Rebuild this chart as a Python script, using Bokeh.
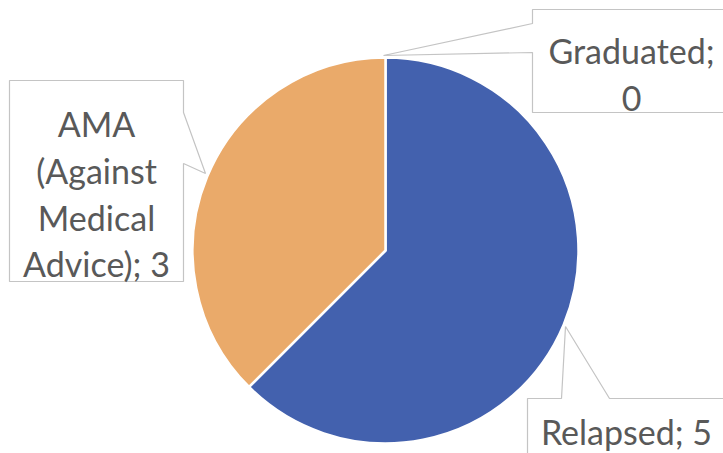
import numpy as np
from bokeh.plotting import figure
from bokeh.models import Range1d, ColumnDataSource
from bokeh.core.properties import value
from bokeh.embed import file_html
from bokeh.resources import INLINE

# data
categories = ["Relapsed", "AMA (Against Medical Advice)", "Graduated"]
counts = [5, 3, 0]
colors = ["#4361AE", "#EAAA6A", "#9E9E9E"]

W, H = 723, 453
p = figure(width=W, height=H, output_backend="svg", toolbar_location=None,
           x_range=Range1d(0, W), y_range=Range1d(0, H),
           min_border=0)
p.axis.visible = False
p.grid.visible = False
p.outline_line_color = None
p.background_fill_color = "white"
p.border_fill_color = "white"

def Y(img_y):
    return 453 - img_y

cx, cy, r = 385, Y(250), 193
total = sum(counts)
cum = np.cumsum([0] + counts)
d = dict(start=[], end=[], color=[], cat=[], n=[])
for i, c in enumerate(counts):
    if c <= 0:
        continue
    a_end = 90 - cum[i] * 360.0 / total
    a_start = 90 - cum[i + 1] * 360.0 / total
    d["start"].append(np.radians(a_start))
    d["end"].append(np.radians(a_end))
    d["color"].append(colors[i])
    d["cat"].append(categories[i])
    d["n"].append(c)

src = ColumnDataSource(d)
p.wedge(x=cx, y=cy, radius=r, start_angle="start", end_angle="end",
        fill_color="color", line_color="white", line_width=2.5, source=src)

border = "#C4C4C4"
txt_color = "#595959"
font = value("Lato")
fs = "34px"

# AMA callout
ama_x = [9, 183, 183, 205, 183, 183, 9, 9]
ama_y = [80, 80, 112, 173, 163, 281, 281, 80]
p.patch(ama_x, [Y(v) for v in ama_y], fill_color="white", line_color=border, line_width=1.2)
ama_lines = ["AMA", "(Against", "Medical", "Advice); %d" % counts[1]]
p.text(x=[96] * 4, y=[Y(v) for v in [123, 170, 217, 263]], text=ama_lines,
       text_align="center", text_baseline="alphabetic", text_font=font,
       text_font_size=fs, text_color=txt_color)

# Graduated callout
g_x = [740, 532, 532, 383, 532, 532, 740]
g_y = [9, 9, 23, 55, 52, 112, 112]
p.patch(g_x, [Y(v) for v in g_y], fill_color="white", line_color=border, line_width=1.2)
p.text(x=[631, 631], y=[Y(50), Y(98)], text=["Graduated;", "%d" % counts[2]],
       text_align="center", text_baseline="alphabetic", text_font=font,
       text_font_size=fs, text_color=txt_color)

# Relapsed callout
r_x = [527, 561, 565, 609, 740, 740, 527, 527]
r_y = [398, 398, 326, 398, 398, 470, 470, 398]
p.patch(r_x, [Y(v) for v in r_y], fill_color="white", line_color=border, line_width=1.2)
p.text(x=[626], y=[Y(431)], text=["Relapsed; %d" % counts[0]],
       text_align="center", text_baseline="alphabetic", text_font=font,
       text_font_size=fs, text_color=txt_color)

open("out.html", "w").write(file_html(p, INLINE))
